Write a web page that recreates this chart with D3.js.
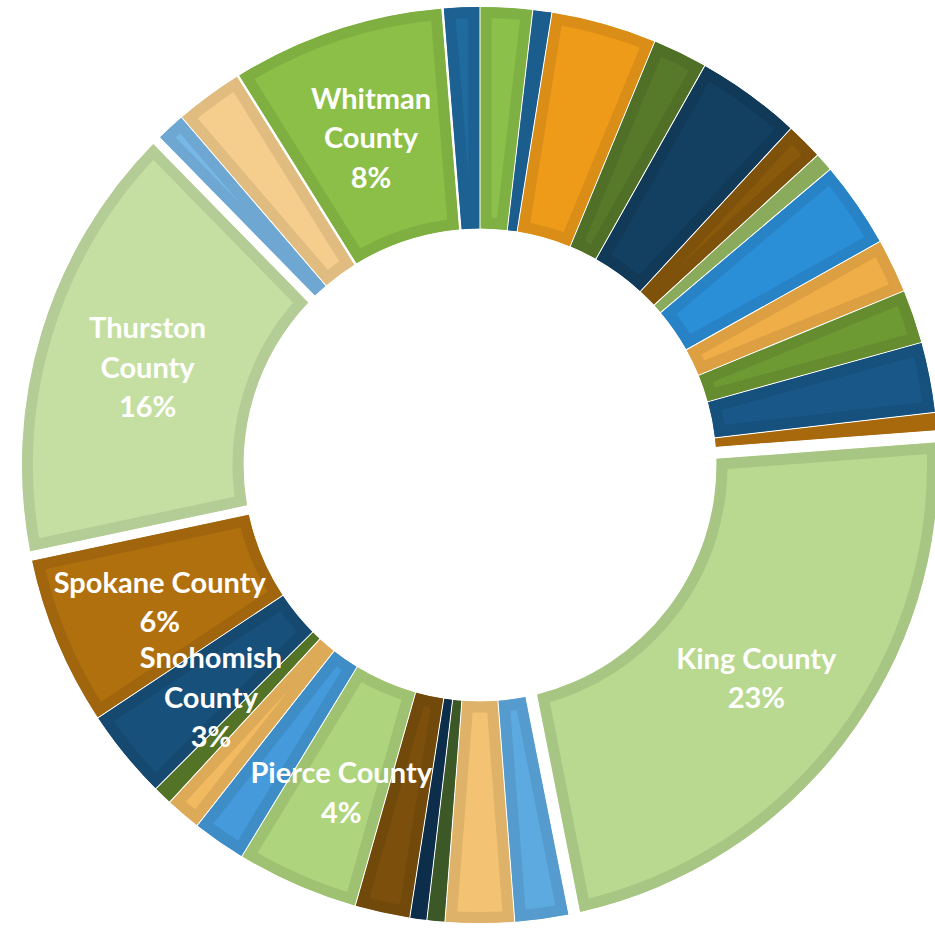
<!DOCTYPE html>
<html>
<head>
<meta charset="utf-8">
<script src="https://cdn.jsdelivr.net/npm/d3@7"></script>
<style>
  html, body { margin: 0; padding: 0; background: #ffffff; }
  svg { display: block; }
  .label { font-family: Lato, "Open Sans", sans-serif; font-weight: 700; fill: #ffffff; }
</style>
</head>
<body>
<svg id="chart" width="935" height="930"></svg>
<script>
// Share of the total for each ring segment (percent), clockwise from 12 o'clock
const shares = [
  1.84, 0.67, 3.72, 1.93, 3.71, 1.31, 0.66, 3.05, 1.91, 1.89,
  2.48, 0.64, 23.08, 1.90, 2.43, 0.63, 0.60, 1.94, 4.31, 1.89,
  1.25, 0.67, 3.19, 5.97, 16.00, 1.04, 2.41, 7.60, 1.28
];

// Segment names; only the named segments carry a data label
const counties = [
  null, null, null, null, null, null, null, null, null, null,
  null, null, "King County", null, null, null, null, null, "Pierce County", null,
  null, null, "Snohomish County", "Spokane County", "Thurston County", null, null, "Whitman County", null
];

// Segment fill colours (six theme accents cycling through lighter / darker variants)
const palette = [
  "#8bc04a", "#1e6699", "#ee9b1a", "#567a2a", "#133f60", "#8a5a0c",
  "#96bb64", "#2b8fd8", "#f0ae48", "#6e9a34", "#185788", "#b8730e",
  "#b8d98f", "#5daae0", "#f3c373", "#42602a", "#0e3252", "#7c500c",
  "#aed47d", "#449ada", "#f2ba60", "#5b7f2b", "#17507a", "#b0700e",
  "#c5dfa3", "#78b8e6", "#f5cd8c", "#8bbf47", "#1f6a9f"
];

// Labels that wrap onto one line per word
const wrapped = new Set(["Whitman County", "Thurston County", "Snohomish County"]);

// Layout
const width = 935, height = 930;
const cx = 480, cy = 465;
const outerR = 458, innerR = 236.5;
const bandWidth = 11;          // darker rim drawn inside every segment
const basePad = 0.6;           // half of the white separator between segments (px)
const pulledOut = { "King County": 11.5, "Thurston County": 9, "Whitman County": 2 };
const fontSize = 29, lineH = 39.5, labelShift = 3;

const data = shares.map((v, i) => ({ value: v, name: counties[i], fill: palette[i] }));
const total = d3.sum(data, d => d.value);

const pie = d3.pie().sort(null).value(d => d.value).startAngle(0).endAngle(2 * Math.PI);
const arcs = pie(data);

const padOf = d => (d.data.name && pulledOut[d.data.name] !== undefined) ? pulledOut[d.data.name] : basePad;
const padRadius = 100;

const arc = d3.arc()
  .innerRadius(innerR)
  .outerRadius(outerR)
  .padRadius(padRadius)
  .padAngle(d => 2 * padOf(d) / padRadius);

const svg = d3.select("#chart");
const defs = svg.append("defs");
const g = svg.append("g").attr("transform", `translate(${cx},${cy})`);

// clip each segment to itself so its stroke only paints an inner rim
defs.selectAll("clipPath")
  .data(arcs)
  .join("clipPath")
  .attr("id", (d, i) => "seg-clip-" + i)
  .append("path")
  .attr("d", arc);

g.selectAll("path.segment")
  .data(arcs)
  .join("path")
  .attr("class", "segment")
  .attr("d", arc)
  .attr("fill", d => d.data.fill)
  .attr("stroke", d => d3.color(d.data.fill).darker(0.25).formatHex())
  .attr("stroke-width", bandWidth * 2)
  .attr("stroke-linejoin", "miter")
  .attr("clip-path", (d, i) => `url(#seg-clip-${i})`);

// data labels at the segment centroids
const labelled = arcs.filter(d => d.data.name);
labelled.forEach(d => {
  const [x, y] = arc.centroid(d);
  d.lx = x;
  d.ly = y + labelShift;
});

const texts = g.selectAll("text.label")
  .data(labelled)
  .join("text")
  .attr("class", "label")
  .attr("text-anchor", "middle")
  .attr("font-size", fontSize)
  .attr("transform", d => `translate(${d.lx},${d.ly})`)
  .each(function (d) {
    const pct = Math.round(d.data.value / total * 100) + "%";
    const nameLines = wrapped.has(d.data.name) ? d.data.name.split(" ") : [d.data.name];
    const lines = nameLines.concat([pct]);
    const n = lines.length;
    const t = d3.select(this);
    lines.forEach((s, k) => {
      t.append("tspan")
        .attr("x", 0)
        .attr("y", (k - (n - 1) / 2) * lineH)
        .attr("dy", "0.35em")
        .text(s);
    });
  });

// nudge colliding labels apart: the lower one moves down until the text boxes clear
const nodes = texts.nodes();
const boxOf = (node, d) => {
  const b = node.getBBox();
  return { x0: b.x + d.lx, x1: b.x + b.width + d.lx,
           y0: b.y + d.ly, y1: b.y + b.height + d.ly };
};
const order = d3.range(nodes.length).sort((a, b) => labelled[a].ly - labelled[b].ly);
for (let oi = 0; oi < order.length; oi++) {
  const j = order[oi];
  const b = labelled[j];
  for (let oa = 0; oa < oi; oa++) {
    const i = order[oa];
    const a = labelled[i];
    const ba = boxOf(nodes[i], a), bb = boxOf(nodes[j], b);
    const overlapX = Math.min(ba.x1, bb.x1) - Math.max(ba.x0, bb.x0);
    const overlapY = ba.y1 - bb.y0;
    if (overlapX > 0 && overlapY > 0) {
      b.ly += overlapY + 1;
      d3.select(nodes[j]).attr("transform", `translate(${b.lx},${b.ly})`);
    }
  }
}
</script>
</body>
</html>
